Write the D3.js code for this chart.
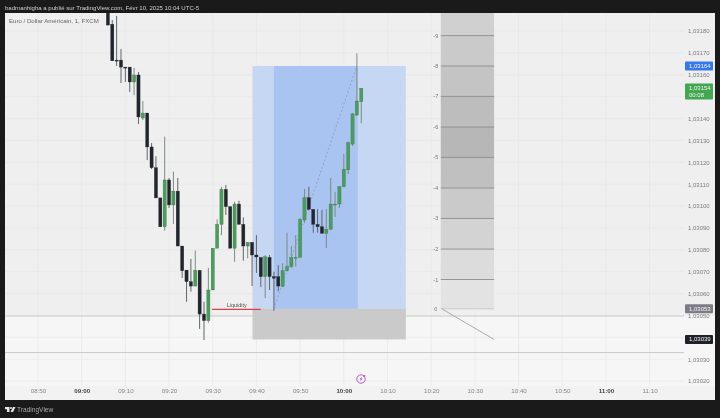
<!DOCTYPE html>
<html><head><meta charset="utf-8">
<script src="https://cdn.jsdelivr.net/npm/d3@7"></script>
<style>
html,body{margin:0;padding:0;background:#1a1a1a;overflow:hidden}
svg{display:block;filter:blur(.45px);font-family:"Liberation Sans",Arial,sans-serif}
</style></head><body><div id="c"></div>
<script>
const firstMinute = 546; // 09:06
const opens  = [1.0319,1.031831,1.031667,1.031667,1.031635,1.031635,1.031567,1.031599,1.031402,1.031425,
  1.03127,1.031175,1.031037,1.030905,1.031119,1.031005,1.031068,1.030817,1.030707,1.030654,
  1.030634,1.030706,1.030506,1.030476,1.030616,1.030807,1.030916,1.031076,1.030997,1.030807,
  1.031009,1.030916,1.030817,1.030834,1.030776,1.030765,1.030677,1.030765,1.030677,1.030677,
  1.030632,1.030704,1.030723,1.030765,1.030765,1.030936,1.031038,1.030985,1.030916,1.030905,
  1.030875,1.030893,1.031009,1.031009,1.031088,1.031165,1.031283,1.031416,1.031477];
const highs  = [1.03196,1.03185,1.031869,1.031718,1.031635,1.031635,1.031631,1.031613,1.03148,1.031425,
  1.031288,1.031228,1.031037,1.031317,1.031128,1.031157,1.031128,1.030817,1.030707,1.030758,
  1.030796,1.030706,1.030562,1.030717,1.030807,1.030939,1.031088,1.031096,1.030997,1.03102,
  1.031024,1.030948,1.030834,1.030834,1.030867,1.030765,1.030776,1.030776,1.0307,1.03073,
  1.030739,1.030878,1.030817,1.030867,1.030945,1.031078,1.031088,1.030985,1.030985,1.030982,
  1.030985,1.031128,1.031065,1.03109,1.031238,1.031295,1.031425,1.031698,1.031538];
const lows   = [1.031827,1.031664,1.03164,1.031562,1.031567,1.031521,1.031507,1.031375,1.031393,1.03121,
  1.031169,1.031037,1.030905,1.030887,1.030991,1.030918,1.030817,1.030671,1.030562,1.030608,
  1.030634,1.030438,1.030387,1.030467,1.030616,1.030807,1.030867,1.030959,1.030807,1.030745,
  1.030916,1.03075,1.030761,1.030634,1.030694,1.03063,1.030579,1.030616,1.030521,1.03061,
  1.03063,1.0307,1.030716,1.030723,1.030765,1.030922,1.03098,1.030878,1.030878,1.030875,
  1.030808,1.030893,1.03095,1.030991,1.031088,1.031146,1.031275,1.03141,1.031379];
const closes = [1.031827,1.031664,1.031663,1.031635,1.031633,1.031567,1.031599,1.031407,1.031425,1.03127,
  1.031175,1.031037,1.030905,1.031119,1.031005,1.031068,1.030817,1.030704,1.030654,1.030634,
  1.030706,1.030506,1.030476,1.030616,1.030807,1.030916,1.031076,1.030997,1.030807,1.031009,
  1.030916,1.030817,1.030834,1.030776,1.030767,1.030677,1.030768,1.030677,1.03067,1.030634,
  1.030704,1.030723,1.030765,1.030765,1.030939,1.031038,1.030985,1.030916,1.030905,1.030875,
  1.030893,1.031009,1.031009,1.031088,1.031168,1.031289,1.031421,1.03148,1.031538];

const priceTicks = [1.0318,1.0317,1.0316,1.0314,1.0313,1.0312,1.0311,1.031,1.0309,1.0308,1.0307,1.0306,1.0305,1.0303,1.0302];
const gridPrices = [1.0318,1.0317,1.0316,1.0315,1.0314,1.0313,1.0312,1.0311,1.031,1.0309,1.0308,1.0307,1.0306,1.0304,1.0303,1.0302];
const timeTicks = [530,540,550,560,570,580,590,600,610,620,630,640,650,660,670];
const timeLabels = ["08:50","09:00","09:10","09:20","09:30","09:40","09:50","10:00","10:10","10:20","10:30","10:40","10:50","11:00","11:10"];
const boldLabels = ["09:00","10:00","11:00"];

const targetPrice = 1.03164, entryPrice = 1.03053, stopPrice = 1.03039, lastPrice = 1.03154;
const boxTimes = [579.1, 584, 603.2, 614.2];
const dashTimes = [584, 603];
const liquidityTimes = [569.8, 581];
const fibTimes = [622.2, 634.4];
const fibLabels = ["-9","-8","-7","-6","-5","-4","-3","-2","-1","0"];
const fibPrices = [1.031779,1.03164,1.031501,1.031361,1.031222,1.031082,1.030943,1.030803,1.030664,1.03053];
const fibFills  = ["#d0d0d0","#cacaca","#c4c4c4","#bdbdbd","#b7b7b7","#c0c0c0","#cacaca","#d3d3d3","#dcdcdc","#e3e3e3"];
const hLinePrices = [1.030497,1.03033];

const W=720,H=418;
const x=d3.scaleLinear().domain([530,670]).range([38,649.6]);
const y=d3.scaleLinear().domain([1.0318,1.0302]).range([31,381]);
const svg=d3.select("#c").append("svg").attr("width",W).attr("height",H);
const L=5,T=13,R=715,B=400,PR=684,AX=386;

svg.append("rect").attr("width",W).attr("height",H).attr("fill","#1a1a1a");
svg.append("rect").attr("x",L).attr("y",T).attr("width",R-L).attr("height",B-T).attr("fill","#efefef");
svg.append("rect").attr("x",L).attr("y",y(hLinePrices[0])).attr("width",R-L).attr("height",AX-y(hLinePrices[0])).attr("fill","#f6f6f6");
svg.append("rect").attr("x",L).attr("y",AX).attr("width",R-L).attr("height",B-AX).attr("fill","#f2f2f2");

svg.append("clipPath").attr("id","pl").append("rect").attr("x",L).attr("y",T).attr("width",PR-L).attr("height",AX-T);
const g=svg.append("g").attr("clip-path","url(#pl)");
g.selectAll(".gv").data(timeTicks).join("line").attr("x1",d=>x(d)).attr("x2",d=>x(d)).attr("y1",T).attr("y2",AX).attr("stroke","#e7e7e7").attr("stroke-width",.7);
g.selectAll(".gh").data(gridPrices).join("line").attr("x1",L).attr("x2",PR).attr("y1",d=>y(d)).attr("y2",d=>y(d)).attr("stroke","#e7e7e7").attr("stroke-width",.7);
hLinePrices.forEach(p=>g.append("line").attr("x1",L).attr("x2",PR).attr("y1",y(p)).attr("y2",y(p)).attr("stroke","#c9c9c9").attr("stroke-width",1));

// position tool
const [b0,b1,b2,b3]=boxTimes.map(x);
g.append("rect").attr("x",b0).attr("y",y(targetPrice)).attr("width",b3-b0).attr("height",y(entryPrice)-y(targetPrice)).attr("fill","#c6d7f3");
g.append("rect").attr("x",b1).attr("y",y(targetPrice)).attr("width",b2-b1).attr("height",y(entryPrice)-y(targetPrice)).attr("fill","#a9c4f0");
g.append("rect").attr("x",b0).attr("y",y(entryPrice)).attr("width",b3-b0).attr("height",y(stopPrice)-y(entryPrice)).attr("fill","#cacaca");
g.append("line").attr("x1",x(dashTimes[0])).attr("y1",y(entryPrice)).attr("x2",x(dashTimes[1])).attr("y2",y(targetPrice)).attr("stroke","#8193b5").attr("stroke-width",.7).attr("stroke-dasharray","2 2");

// fib column
const fx0=x(fibTimes[0]),fx1=x(fibTimes[1]);
fibPrices.forEach((p,i)=>{
  const top=i===0?T:y(fibPrices[i-1]);
  g.append("rect").attr("x",fx0).attr("y",top).attr("width",fx1-fx0).attr("height",y(p)-top).attr("fill",fibFills[i]);
});
fibPrices.forEach((p,i)=>{
  g.append("line").attr("x1",fx0).attr("x2",fx1).attr("y1",y(p)).attr("y2",y(p)).attr("stroke",i===9?"#c6c6c6":"#8c8c8c").attr("stroke-width",.9);
  g.append("text").attr("x",fx0-5).attr("y",y(p)+2).attr("text-anchor","middle").attr("font-size",5.5).attr("fill","#777").text(fibLabels[i]);
});
g.append("line").attr("x1",fx0+1).attr("y1",y(entryPrice)).attr("x2",fx1).attr("y2",y(stopPrice)).attr("stroke","#ababab").attr("stroke-width",1);

// liquidity
g.append("line").attr("x1",x(liquidityTimes[0])).attr("x2",x(liquidityTimes[1])).attr("y1",y(entryPrice)+.5).attr("y2",y(entryPrice)+.5).attr("stroke","#e23c4c").attr("stroke-width",1.2);
g.append("text").attr("x",x(575.5)).attr("y",307).attr("text-anchor","middle").attr("font-size",5.5).attr("fill","#555").text("Liquidity");

// candles
const idx=d3.range(opens.length);
const up=i=>closes[i]>=opens[i];
const t=i=>firstMinute+i;
g.selectAll(".w").data(idx).join("line").attr("x1",i=>x(t(i))).attr("x2",i=>x(t(i)))
  .attr("y1",i=>y(highs[i])).attr("y2",i=>y(lows[i])).attr("stroke",i=>up(i)?"#7d8c80":"#62656b").attr("stroke-width",1);
g.selectAll(".b").data(idx).join("rect").attr("x",i=>x(t(i))-1.6).attr("width",3.2)
  .attr("y",i=>Math.min(y(opens[i]),y(closes[i])))
  .attr("height",i=>Math.max(1,Math.abs(y(opens[i])-y(closes[i]))))
  .attr("fill",i=>up(i)?"#4a9e5c":"#23252d").attr("stroke",i=>up(i)?"#3a6b47":"#23252d").attr("stroke-width",.3);

// axes
const fmt=d=>d.toFixed(5).replace(".",",");
const ay=svg.append("g").attr("transform","translate(688,0)").call(d3.axisRight(y).tickValues(priceTicks).tickFormat(fmt).tickSize(0).tickPadding(0));
ay.select(".domain").remove();
ay.selectAll("text").attr("font-size",6).attr("fill","#7d7d7d").attr("font-family","'Liberation Sans',Arial,sans-serif");
const ax=svg.append("g").attr("transform","translate(0,389)").call(d3.axisBottom(x).tickValues(timeTicks).tickFormat((d,i)=>timeLabels[i]).tickSize(0).tickPadding(0));
ax.select(".domain").remove();
ax.selectAll("text").attr("font-size",6.2).attr("font-family","'Liberation Sans',Arial,sans-serif")
  .attr("fill",(d,i)=>boldLabels.includes(timeLabels[i])?"#444":"#858585").attr("font-weight",(d,i)=>boldLabels.includes(timeLabels[i])?"700":"400");

// price tags
function tag(p,h,fill,lines){
  const yy=y(p);
  svg.append("rect").attr("x",685).attr("y",yy-4.5).attr("width",28).attr("height",h).attr("rx",1).attr("fill",fill);
  lines.forEach((l,k)=>svg.append("text").attr("x",689).attr("y",yy+2+k*7.5).attr("font-size",6).attr("fill","#f4f4f4").text(l));
}
tag(targetPrice,9,"#3478ee",[fmt(targetPrice)]);
tag(lastPrice,16,"#43a650",[fmt(lastPrice),"00:08"]);
tag(entryPrice,9,"#7c7c84",[fmt(entryPrice)]);
tag(stopPrice,9,"#1f2129",[fmt(stopPrice)]);

// flash icon
svg.append("circle").attr("cx",361).attr("cy",379).attr("r",4.2).attr("fill","none").attr("stroke","#a94bc4").attr("stroke-width",.9);
svg.append("path").attr("d","M361.8 376.4 L359.6 379.4 L361 379.4 L360.2 381.6 L362.5 378.6 L361.1 378.6 Z").attr("fill","#a94bc4");
svg.append("circle").attr("cx",364.3).attr("cy",376).attr("r",1).attr("fill","#d9475a");

// header/footer
svg.append("text").attr("x",5).attr("y",9.5).attr("font-size",6.05).attr("fill","#cfcfcf").text("badmanhigha a publié sur TradingView.com, Févr 10, 2025 10:04 UTC-5");
svg.append("text").attr("x",9).attr("y",23).attr("font-size",6.1).attr("fill","#666").text("Euro / Dollar Américain, 1, FXCM");
svg.append("path").attr("d","M5 407 H9.5 V412 H7 V409.3 H5 Z").attr("fill","#e8e8e8");
svg.append("circle").attr("cx",11).attr("cy",408).attr("r",1).attr("fill","#e8e8e8");
svg.append("path").attr("d","M13 407 H15.5 L13 412 H10.5 Z").attr("fill","#e8e8e8");
svg.append("text").attr("x",17).attr("y",412).attr("font-size",6.6).attr("fill","#a8a8a8").text("TradingView");
</script></body></html>
